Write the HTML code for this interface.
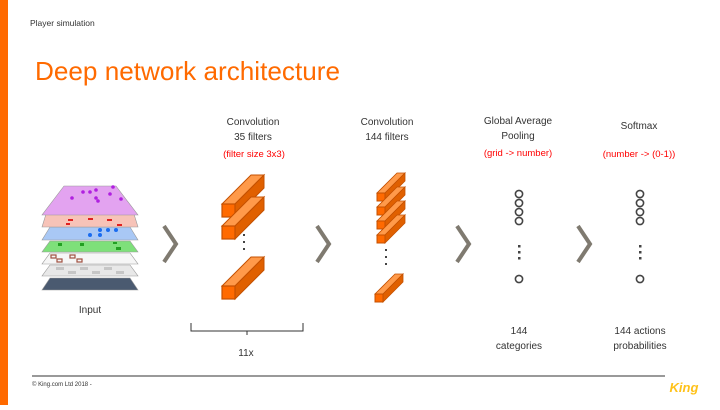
<!DOCTYPE html>
<html><head><meta charset="utf-8"><style>
html,body{margin:0;padding:0;background:#fff;}
body{width:720px;height:405px;overflow:hidden;position:relative;font-family:"Liberation Sans",sans-serif;}
</style></head><body>
<svg width="720" height="405" viewBox="0 0 720 405" xmlns="http://www.w3.org/2000/svg" font-family="Liberation Sans, sans-serif">
<rect x="0" y="0" width="8" height="405" fill="#ff6a00"/>
<text x="30" y="26" font-size="8.5" fill="#333">Player simulation</text>
<text x="35" y="80" font-size="26" fill="#ff6a00" textLength="305" lengthAdjust="spacingAndGlyphs">Deep network architecture</text>

<g stroke="#999" stroke-width="0.6">
<polygon points="42,290 138,290 130,278 50,278" fill="#4a5a70"/>
<polygon points="42,276 138,276 130,265 50,265" fill="#e8e8e8"/>
<polygon points="42,264 138,264 130,253 50,253" fill="#f6f6f6"/>
<polygon points="42,252 138,252 130,241 50,241" fill="#7ee07a"/>
<polygon points="42,240 138,240 130,227 50,227" fill="#a9c8f5"/>
<polygon points="42,227 138,227 134,214 46,214" fill="#f7c3b8"/>
<polygon points="42,215 138,215 116,186 64,186" fill="#e3a3f0"/>
</g>
<g fill="#c6c6c6"><rect x="56" y="267" width="8" height="3"/><rect x="80" y="267" width="8" height="3"/><rect x="104" y="267" width="8" height="3"/><rect x="68" y="271" width="8" height="3"/><rect x="92" y="271" width="8" height="3"/><rect x="116" y="271" width="8" height="3"/></g>
<g fill="none" stroke="#a05040" stroke-width="1.2"><rect x="51" y="255" width="5" height="3"/><rect x="70" y="255" width="5" height="3"/><rect x="57" y="259" width="5" height="3"/><rect x="77" y="259" width="5" height="3"/></g>
<g fill="#22a022"><rect x="58" y="243" width="4" height="3"/><rect x="80" y="243" width="4" height="3"/><rect x="116" y="247" width="5" height="3"/><rect x="113" y="242" width="4" height="2"/></g>
<g fill="#1a6cf0"><circle cx="90" cy="235" r="2"/><circle cx="100" cy="235" r="2"/><circle cx="108" cy="230" r="2"/><circle cx="116" cy="230" r="2"/><circle cx="100" cy="230" r="2"/></g>
<g fill="#e02020"><rect x="68" y="219" width="5" height="2"/><rect x="88" y="218" width="5" height="2"/><rect x="107" y="219" width="5" height="2"/><rect x="117" y="224" width="5" height="2"/><rect x="66" y="223" width="4" height="2"/></g>
<g fill="#b020e0"><circle cx="72" cy="198" r="1.8"/><circle cx="83" cy="192" r="1.8"/><circle cx="90" cy="192" r="1.8"/><circle cx="96" cy="198" r="1.8"/><circle cx="98" cy="201" r="1.8"/><circle cx="110" cy="194" r="1.8"/><circle cx="121" cy="199" r="1.8"/><circle cx="113" cy="187" r="1.8"/><circle cx="96" cy="190" r="1.8"/></g>
<text x="90" y="313" font-size="10" fill="#333" text-anchor="middle">Input</text>

<defs>
<g id="bar"><polygon points="0,0 13,0 42,-29 29,-29" fill="#ff9a4a" stroke="#c45000" stroke-width="1"/><polygon points="13,0 42,-29 42,-16 13,13" fill="#e06000" stroke="#c45000" stroke-width="1"/><rect x="0" y="0" width="13" height="13" fill="#ff6a00" stroke="#c45000" stroke-width="1.2"/></g>
<g id="sbar"><polygon points="0,0 8,0 28,-20 20,-20" fill="#ff9a4a" stroke="#c45000" stroke-width="0.8"/><polygon points="8,0 28,-20 28,-12 8,8" fill="#e06000" stroke="#c45000" stroke-width="0.8"/><rect x="0" y="0" width="8" height="8" fill="#ff6a00" stroke="#c45000" stroke-width="1"/></g>
</defs>
<use href="#bar" x="222" y="204"/>
<use href="#bar" x="222" y="226"/>
<use href="#bar" x="222" y="286"/>
<g fill="#444"><rect x="243" y="234" width="2" height="2"/><rect x="243" y="241" width="2" height="2"/><rect x="243" y="248" width="2" height="2"/></g>
<use href="#sbar" x="377" y="193"/>
<use href="#sbar" x="377" y="207"/>
<use href="#sbar" x="377" y="221"/>
<use href="#sbar" x="377" y="235"/>
<use href="#sbar" x="375" y="294"/>
<g fill="#444"><rect x="385" y="249" width="2" height="2"/><rect x="385" y="256" width="2" height="2"/><rect x="385" y="263" width="2" height="2"/></g>

<g fill="none" stroke="#7f7a70" stroke-width="4">
<polyline points="164,226 176,244 164,262"/>
<polyline points="317,226 329,244 317,262"/>
<polyline points="457,226 469,244 457,262"/>
<polyline points="578,226 590,244 578,262"/>
</g>

<g fill="none" stroke="#444" stroke-width="1.6">
<circle cx="519" cy="194" r="3.6"/><circle cx="519" cy="203" r="3.6"/><circle cx="519" cy="212" r="3.6"/><circle cx="519" cy="221" r="3.6"/><circle cx="519" cy="279" r="3.6"/>
<circle cx="640" cy="194" r="3.6"/><circle cx="640" cy="203" r="3.6"/><circle cx="640" cy="212" r="3.6"/><circle cx="640" cy="221" r="3.6"/><circle cx="640" cy="279" r="3.6"/>
</g>
<g fill="#444"><rect x="518" y="245" width="2.5" height="2.5"/><rect x="518" y="251" width="2.5" height="2.5"/><rect x="518" y="257" width="2.5" height="2.5"/>
<rect x="639" y="245" width="2.5" height="2.5"/><rect x="639" y="251" width="2.5" height="2.5"/><rect x="639" y="257" width="2.5" height="2.5"/></g>

<g font-size="10" fill="#333" text-anchor="middle">
<text x="253" y="125">Convolution</text><text x="253" y="140">35 filters</text>
<text x="387" y="125">Convolution</text><text x="387" y="140">144 filters</text>
<text x="518" y="124">Global Average</text><text x="518" y="139">Pooling</text>
<text x="639" y="129">Softmax</text>
<text x="519" y="334">144</text><text x="519" y="349">categories</text>
<text x="640" y="334">144 actions</text><text x="640" y="349">probabilities</text>
<text x="246" y="356">11x</text>
</g>
<g font-size="9.5" fill="#ff0000" text-anchor="middle">
<text x="254" y="157">(filter size 3x3)</text>
<text x="518" y="156">(grid -&gt; number)</text>
<text x="639" y="157">(number -&gt; (0-1))</text>
</g>
<path d="M191,323 V331 H303 V323 M247,331 V335" fill="none" stroke="#333" stroke-width="1"/>

<line x1="32" y1="376" x2="665" y2="376" stroke="#333" stroke-width="1"/>
<text x="32" y="386" font-size="6" fill="#333">© King.com Ltd 2018 -</text>
<text x="684" y="392" font-size="13" font-weight="bold" font-style="italic" fill="#ffc21a" text-anchor="middle">King</text>
</svg>
</body></html>
